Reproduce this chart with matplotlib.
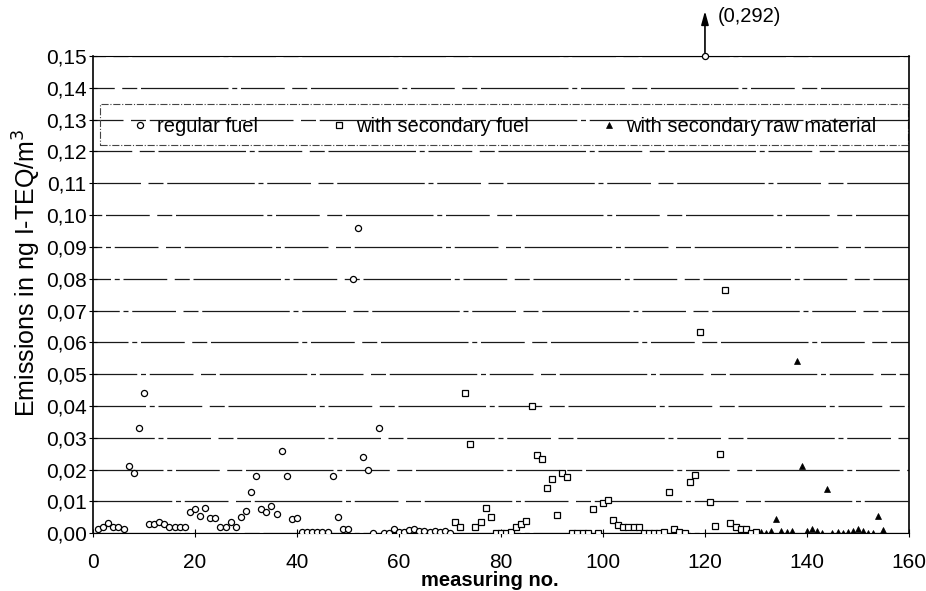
import matplotlib
matplotlib.use("Agg")
import matplotlib.pyplot as plt
from matplotlib.patches import Rectangle
from matplotlib.ticker import FuncFormatter, MultipleLocator

plt.rcParams['font.family'] = ['Liberation Sans', 'DejaVu Sans']

# regular fuel (circles)
reg_no = [1, 2, 3, 4, 5, 6, 7, 8, 9, 10,
          11, 12, 13, 14, 15, 16, 17, 18, 19, 20,
          21, 22, 23, 24, 25, 26, 27, 28, 29, 30,
          31, 32, 33, 34, 35, 36, 37, 38, 39, 40,
          41, 42, 43, 44, 45, 46, 47, 48, 49, 50,
          51, 52, 53, 54, 55, 56, 57, 58, 59, 60,
          61, 62, 63, 64, 65, 66, 67, 68, 69, 70]
reg_val = [0.0013, 0.0021, 0.0031, 0.0019, 0.0021, 0.0013, 0.021, 0.019, 0.033, 0.044,
           0.0029, 0.0029, 0.0037, 0.0028, 0.0021, 0.0021, 0.0021, 0.0021, 0.0066, 0.0076,
           0.0054, 0.0079, 0.0047, 0.0047, 0.0020, 0.0020, 0.0037, 0.0020, 0.0052, 0.0070,
           0.013, 0.018, 0.0075, 0.0066, 0.0087, 0.0060, 0.026, 0.018, 0.0044, 0.0049,
           0.0003, 0.0003, 0.0003, 0.0003, 0.0003, 0.0003, 0.018, 0.0050, 0.0013, 0.0013,
           0.080, 0.096, 0.024, 0.020, 0.0, 0.033, 0.0, 0.0, 0.0013, 0.0003,
           0.0003, 0.0010, 0.0013, 0.0008, 0.0008, 0.0005, 0.0008, 0.0005, 0.0008, 0.0002]

# the off-scale value (0,292) is drawn at the top edge
peak_no = 120
peak_val = 0.292

# with secondary fuel (squares)
sec_no = [71, 72, 73, 74, 75, 76, 77, 78, 79, 80,
          81, 82, 83, 84, 85, 86, 87, 88, 89, 90,
          91, 92, 93, 94, 95, 96, 97, 98, 99, 100,
          101, 102, 103, 104, 105, 106, 107, 108, 109, 110,
          111, 112, 113, 114, 115, 116, 117, 118, 119, 121,
          122, 123, 124, 125, 126, 127, 128, 129, 130]
sec_val = [0.0036, 0.0021, 0.044, 0.028, 0.0021, 0.0036, 0.0078, 0.0052, 0.0, 0.0,
           0.0, 0.0003, 0.0020, 0.0030, 0.0040, 0.040, 0.0246, 0.0234, 0.0142, 0.0171,
           0.0058, 0.0189, 0.0176, 0.0, 0.0, 0.0, 0.0, 0.0075, 0.0, 0.0094,
           0.0105, 0.0042, 0.0026, 0.0019, 0.0019, 0.0019, 0.0019, 0.0, 0.0, 0.0,
           0.0, 0.0005, 0.013, 0.0013, 0.0005, 0.0002, 0.0162, 0.0183, 0.0632, 0.0097,
           0.0023, 0.0248, 0.0765, 0.0031, 0.0021, 0.0013, 0.0013, 0.0, 0.0005]

# with secondary raw material (triangles)
raw_no = [131, 132, 133, 134, 135, 136, 137, 138, 139, 140,
          141, 142, 143, 144, 145, 146, 147, 148, 149, 150,
          151, 152, 153, 154, 155]
raw_val = [0.0005, 0.0002, 0.0008, 0.0045, 0.0008, 0.0005, 0.0008, 0.054, 0.021, 0.0008,
           0.0013, 0.0008, 0.0002, 0.014, 0.0, 0.0005, 0.0, 0.0005, 0.0008, 0.0013,
           0.0008, 0.0002, 0.0002, 0.0055, 0.0010]

fig = plt.figure(figsize=(9.26, 5.91), dpi=100)
ax = fig.add_axes([0.1004, 0.0976, 0.8812, 0.8076])

# horizontal grid, broken like the scanned original
for k in range(16):
    ax.axhline(k * 0.01, color='#1a1a1a', lw=0.9,
               ls=(k * 7, (70, 3, 4, 3, 35, 6, 12, 3)), zorder=1)

ax.plot(reg_no, reg_val, 'o', ms=4.4, mfc='white', mec='black', mew=0.9,
        ls='none', label='regular fuel', zorder=3)
ax.plot(sec_no, sec_val, 's', ms=4.2, mfc='white', mec='black', mew=0.9,
        ls='none', label='with secondary fuel', zorder=3)
ax.plot(raw_no, raw_val, '^', ms=4.4, mfc='black', mec='black', mew=0.5,
        ls='none', label='with secondary raw material', zorder=3)

# off-scale point
ax.plot([peak_no], [0.15], 'o', ms=4.4, mfc='white', mec='black', mew=0.9,
        clip_on=False, zorder=4)
ax.annotate('', xy=(peak_no, 0.1650), xytext=(peak_no, 0.1502),
            arrowprops=dict(arrowstyle='-|>,head_length=0.8,head_width=0.22',
                            color='black', lw=1.2),
            annotation_clip=False)
ax.text(peak_no + 2.5, 0.1623, '(0,%03d)' % round(peak_val * 1000), fontsize=14.5,
        ha='left', va='center', clip_on=False)

ax.set_xlim(0, 160)
ax.set_ylim(0, 0.15)
ax.xaxis.set_major_locator(MultipleLocator(20))
ax.yaxis.set_major_locator(MultipleLocator(0.01))
ax.yaxis.set_major_formatter(FuncFormatter(lambda v, p: ('%.2f' % v).replace('.', ',')))
ax.tick_params(axis='both', direction='inout', length=6, width=0.8, labelsize=15)
ax.tick_params(axis='y', pad=1.5)
ax.tick_params(axis='x', pad=11)

for s in ['left', 'right']:
    ax.spines[s].set_linewidth(1.2)
ax.spines['top'].set_linewidth(0.8)
ax.spines['bottom'].set_linewidth(0.8)

ax.set_xlabel('measuring no.', fontsize=14.5, fontweight='bold')
ax.xaxis.set_label_coords(0.4865, -0.079)
ax.set_ylabel('Emissions in ng I-TEQ/m$^3$', fontsize=18)
ax.yaxis.set_label_coords(-0.061, 0.545)

# legend box (dash-dot frame across the plot) and entries
ax.add_patch(Rectangle((0.0086, 0.814), 0.9902, 0.085, transform=ax.transAxes,
                       fill=False, ec='#444444', lw=0.8, ls='-.', zorder=2))
leg = ax.legend(ncol=3, loc='center left', bbox_to_anchor=(0.0502, 0.853),
                fontsize=14.5, handletextpad=0.55, handlelength=0.6,
                columnspacing=3.7, borderpad=0, borderaxespad=0, frameon=False)

fig.savefig('out.png', dpi=100)
